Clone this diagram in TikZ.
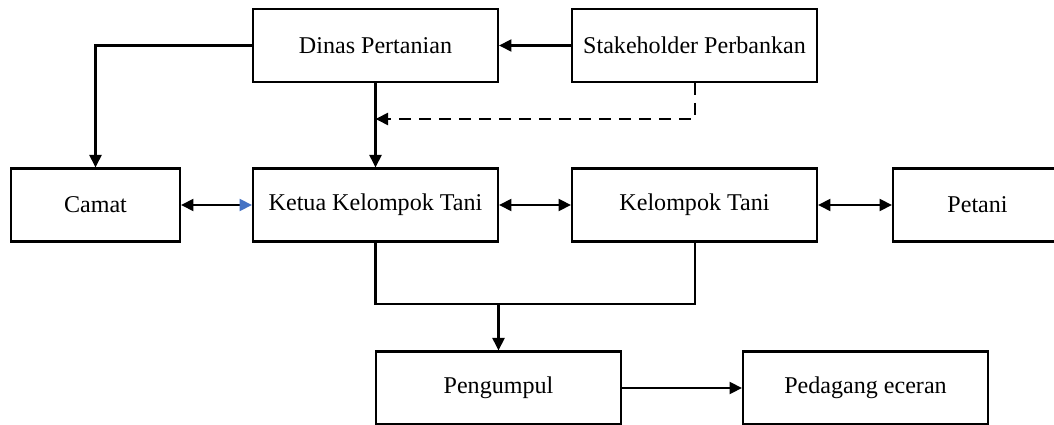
\documentclass[tikz,border=0pt]{standalone}
\usepackage{fontspec}
\setmainfont{Liberation Serif}
\usetikzlibrary{arrows.meta, positioning}
\tikzset{>={Triangle[length=2.5mm,width=2.4mm]}}
\tikzset{box/.style = {shape=rectangle,draw,line width=1.15pt,minimum width=4.9cm,minimum height=1.46cm,inner sep=0pt,font=\fontsize{13.7}{16}\selectfont}}
\tikzset{smallbox/.style = {box,minimum width=3.38cm}}
\tikzset{link/.style = {line width=1.15pt}}
\definecolor{tipblue}{RGB}{68,114,196}

\begin{document}
\begin{tikzpicture}[x=0.02cm,y=-0.02cm]
                    \useasboundingbox (0,0) rectangle (1054,425);
                    \clip (0,0) rectangle (1054,425);

                    \node[box] (dinas) at (375.5,45.5) {Dinas Pertanian};
                    \node[box] (stake) at (694.5,45.5) {Stakeholder Perbankan};
                    \node[smallbox] (camat) at (95.5,205) {Camat};
                    \node[box] (ketua) at (375.5,205) {Ketua Kelompok Tani};
                    \node[box] (kelompok) at (694.5,205) {Kelompok Tani};
                    \node[smallbox] (petani) at (977.5,205) {Petani};
                    \node[box] (pengumpul) at (498.5,388) {Pengumpul};
                    \node[box] (pedagang) at (865.5,388) {Pedagang eceran};

                    \coordinate (dj) at (375.5,119);
                    \coordinate (join) at (498.5,304);

                    \draw[link,->] (dinas.west) -| (camat.north);
                    \draw[link,->] (stake.west) -- (dinas.east);
                    \draw[link,->] (dinas.south) -- (ketua.north);
                    \draw[link,->,dash pattern=on 2.4mm off 1.6mm] (stake.south) |- (dj);
                    \draw[link,{Triangle[length=2.5mm,width=2.4mm]}-{Triangle[length=2.5mm,width=2.4mm,color=tipblue]}] (camat.east) -- (ketua.west);
                    \draw[link,<->] (ketua.east) -- (kelompok.west);
                    \draw[link,<->] (kelompok.east) -- (petani.west);
                    \draw[link] (ketua.south) |- (join) -| (kelompok.south);
                    \draw[link,->] (join) -- (pengumpul.north);
                    \draw[link,->] (pengumpul.east) -- (pedagang.west);
                  \end{tikzpicture}
\end{document}
